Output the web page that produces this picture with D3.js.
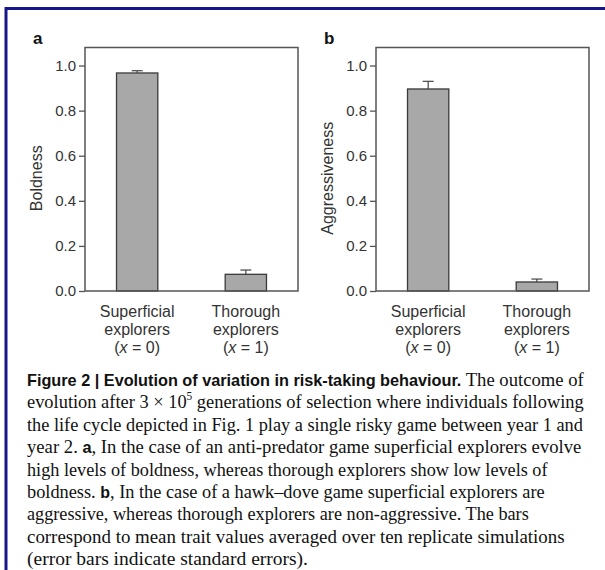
<!DOCTYPE html>
<html>
<head>
<meta charset="utf-8">
<script src="https://cdn.jsdelivr.net/npm/d3@7"></script>
<style>
html,body{margin:0;padding:0;background:#fff;}
svg{display:block;}
</style>
</head>
<body>
<svg id="c" width="605" height="570"></svg>
<script>
// ---- data ----
const categories = ["superficial", "thorough"];
const categoryLines = [["Superficial", "explorers", "(x = 0)"], ["Thorough", "explorers", "(x = 1)"]];
const boldness = [0.967, 0.074];
const boldnessSE = [0.010, 0.019];
const aggressiveness = [0.896, 0.040];
const aggressivenessSE = [0.034, 0.013];
const yTicks = [0.0, 0.2, 0.4, 0.6, 0.8, 1.0];
const panelLetters = ["a", "b"];
const yTitles = ["Boldness", "Aggressiveness"];

const captionLines = [
  [{t:"Figure 2 | Evolution of variation in risk-taking behaviour.", b:true}, {t:"  The outcome of"}],
  [{t:"evolution after 3 \u00D7 10"}, {t:"5", sup:true}, {t:" generations of selection where individuals following"}],
  [{t:"the life cycle depicted in Fig. 1 play a single risky game between year 1 and"}],
  [{t:"year 2. "}, {t:"a", b:true}, {t:", In the case of an anti-predator game superficial explorers evolve"}],
  [{t:"high levels of boldness, whereas thorough explorers show low levels of"}],
  [{t:"boldness. "}, {t:"b", b:true}, {t:", In the case of a hawk\u2013dove game superficial explorers are"}],
  [{t:"aggressive, whereas thorough explorers are non-aggressive. The bars"}],
  [{t:"correspond to mean trait values averaged over ten replicate simulations"}],
  [{t:"(error bars indicate standard errors)."}]
];
const captionLineEnds = [584, 584, 583, 582, 548, 545, 529, 565, 308];

const svg = d3.select("#c");
const sans = "'Liberation Sans', Arial, Helvetica, sans-serif";
const serif = "'Liberation Serif', 'Times New Roman', serif";

// frame
svg.append("rect").attr("x", 6).attr("y", 8.5).attr("width", 700).attr("height", 700)
  .attr("fill", "none").attr("stroke", "#17168a").attr("stroke-width", 3);

const panels = [
  {x0: 85, values: boldness, se: boldnessSE},
  {x0: 376, values: aggressiveness, se: aggressivenessSE}
];
const W = 213, yBottom = 291, yTop = 47.5;

const y = d3.scaleLinear().domain([0, 1.08]).range([yBottom, yTop]);

panels.forEach((p, i) => {
  const g = svg.append("g").attr("transform", `translate(${p.x0},0)`);
  const x = d3.scaleBand().domain(categories).range([0, W]).paddingInner(0.62).paddingOuter(0.29);

  g.selectAll("rect.bar").data(p.values).join("rect").attr("class", "bar")
    .attr("x", (d, k) => x(categories[k]))
    .attr("width", x.bandwidth())
    .attr("y", d => y(d))
    .attr("height", d => y(0) - y(d))
    .attr("fill", "#a8a8a8").attr("stroke", "#3a3a3a").attr("stroke-width", 1.3);

  p.values.forEach((d, k) => {
    const cx = x(categories[k]) + x.bandwidth() / 2;
    g.append("line").attr("x1", cx).attr("x2", cx).attr("y1", y(d)).attr("y2", y(d + p.se[k]))
      .attr("stroke", "#444").attr("stroke-width", 1.2);
    g.append("line").attr("x1", cx - 5.5).attr("x2", cx + 5.5).attr("y1", y(d + p.se[k])).attr("y2", y(d + p.se[k]))
      .attr("stroke", "#444").attr("stroke-width", 1.2);
  });

  g.append("rect").attr("x", 0).attr("y", yTop).attr("width", W).attr("height", yBottom - yTop)
    .attr("fill", "none").attr("stroke", "#555").attr("stroke-width", 1.5);

  const ax = g.append("g").call(d3.axisLeft(y).tickValues(yTicks).tickFormat(d3.format(".1f")).tickSize(6).tickPadding(3));
  ax.select(".domain").remove();
  ax.selectAll(".tick line").attr("stroke", "#555").attr("stroke-width", 1.3);
  ax.selectAll(".tick text").attr("font-family", sans).attr("font-size", 15).attr("fill", "#333");

  g.append("text").attr("transform", `translate(-43,${(y(0) + y(1)) / 2}) rotate(-90)`)
    .attr("text-anchor", "middle").attr("font-family", sans).attr("font-size", 16).attr("fill", "#333")
    .text(yTitles[i]);

  categoryLines.forEach((lines, k) => {
    const cx = x(categories[k]) + x.bandwidth() / 2;
    const t = g.append("text").attr("text-anchor", "middle").attr("font-family", sans)
      .attr("font-size", 16).attr("fill", "#333");
    lines.forEach((ln, j) => {
      const ts = t.append("tspan").attr("x", cx).attr("y", 317 + j * 18);
      if (ln.startsWith("(x")) {
        ts.append("tspan").text("(");
        ts.append("tspan").attr("font-style", "italic").text("x");
        ts.append("tspan").text(ln.slice(2));
      } else ts.text(ln);
    });
  });

  svg.append("text").attr("x", p.x0 - 52).attr("y", 44).attr("font-family", sans).attr("font-weight", "bold")
    .attr("font-size", 17).attr("fill", "#111").text(panelLetters[i]);
});

// caption
captionLines.forEach((line, i) => {
  const g = svg.append("g");
  const t = g.append("text").attr("x", 0).attr("y", 0)
    .attr("font-family", serif).attr("font-size", 19.5).attr("fill", "#111");
  line.forEach((seg, k) => {
    const ts = t.append("tspan").text(seg.t);
    if (seg.b) ts.attr("font-family", sans).attr("font-weight", "bold").attr("font-size", 17);
    if (seg.sup) ts.attr("font-size", 12).attr("dy", -8);
    else if (k > 0 && line[k - 1].sup) ts.attr("dy", 8);
  });
  const natural = t.node().getComputedTextLength();
  const sx = (captionLineEnds[i] - 27) / natural;
  g.attr("transform", `translate(27,${386 + i * 22.4}) scale(${sx},1)`);
});
</script>
</body>
</html>
